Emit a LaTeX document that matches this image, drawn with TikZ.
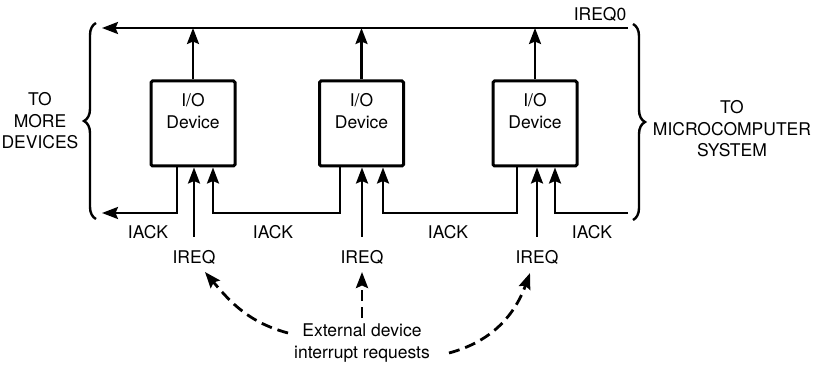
\documentclass[tikz,border=0pt]{standalone}
\usepackage{fontspec}
\setmainfont{TeX Gyre Heros}
\usetikzlibrary{arrows.meta,decorations.pathreplacing}
\begin{document}
\begin{tikzpicture}[x=1pt,y=1pt,
  every node/.style={font=\fontsize{17.5}{21.5}\selectfont, inner sep=0pt},
  dev/.style={draw, line width=3pt, minimum width=84pt, minimum height=85pt, rounded corners=1.5pt},
  wire/.style={line width=2.4pt},
  arr/.style={wire, -{Stealth[length=16pt,width=12pt,inset=2.5pt]}},
  dasharr/.style={line width=2.8pt, dash pattern=on 11pt off 6pt, -{Stealth[length=16pt,width=12pt,inset=2.5pt]}},
  brc/.style={line width=2.4pt, decorate, decoration={brace, amplitude=12pt}}]
\useasboundingbox (0,0) rectangle (821,364);

% devices
\node[dev] (b1) at (193,240.5) {};
\node[dev] (b2) at (361.5,240.5) {};
\node[dev] (b3) at (535,240.5) {};
\node[align=center] (l1) at (193,253) {I/O\\Device};
\node[align=center] (l2) at (361.5,253) {I/O\\Device};
\node[align=center] (l3) at (535,253) {I/O\\Device};

% bus coordinates
\coordinate (top) at (0,336);
\coordinate (tr) at (628,336);
\coordinate (tl) at (102,336);
\coordinate (br) at (628,151);
\coordinate (bl) at (102,151);

% pins
\coordinate (o1) at ([xshift=-16pt]b1.south);
\coordinate (i1) at ([xshift=20pt]b1.south);
\coordinate (o2) at ([xshift=-21.5pt]b2.south);
\coordinate (i2) at ([xshift=21.5pt]b2.south);
\coordinate (o3) at ([xshift=-18pt]b3.south);
\coordinate (i3) at ([xshift=20pt]b3.south);

% IREQ0 line
\draw[arr] (tr) -- (tl);
\node (irq0) at (600,350) {IREQ0};
\draw[arr] (b1.north) -- (b1.north |- top);
\draw[arr] (b2.north) -- (b2.north |- top);
\draw[arr] (b3.north) -- (b3.north |- top);

% IACK daisy chain
\draw[arr] (br) -| (i3);
\draw[arr] (o3) -- (o3 |- br) -| (i2);
\draw[arr] (o2) -- (o2 |- br) -| (i1);
\draw[arr] (o1) |- (bl);

% labels
\node (k0) at (148,132) {IACK};
\node (k1) at (273,132) {IACK};
\node (k2) at (448,132) {IACK};
\node (k3) at (592,132) {IACK};
\node (q1) at (194,107) {IREQ};
\node (q2) at (362,107) {IREQ};
\node (q3) at (537,107) {IREQ};

% IREQ arrows
\draw[arr] ([yshift=13pt]q1.north) -- (q1.north |- b1.south);
\draw[arr] ([yshift=13pt]q2.north) -- (q2.north |- b2.south);
\draw[arr] ([yshift=13pt]q3.north) -- (q3.north |- b3.south);

% braces
\coordinate (lb1) at (96,145);
\coordinate (lb2) at (96,341);
\coordinate (rb1) at (633,340);
\coordinate (rb2) at (633,144);
\draw[brc] (lb1) -- (lb2);
\draw[brc] (rb1) -- (rb2);
\node[align=center] (lt) at (40,243) {TO\\MORE\\DEVICES};
\node[align=center] (rt) at (732,235) {TO\\MICROCOMPUTER\\SYSTEM};

% external requests
\node[align=center] (ext) at (362,21) {External device\\interrupt requests};
\coordinate (s1) at (288,31);
\coordinate (t1) at (205,92);
\coordinate (s2) at (362,46);
\coordinate (t2) at (362,92);
\coordinate (s3) at (449,11);
\coordinate (t3) at (530,91);
\draw[dasharr] (s1) to[out=165,in=-50] (t1);
\draw[dasharr] (s2) -- (t2);
\draw[dasharr] (s3) to[out=15,in=-110] (t3);
\end{tikzpicture}
\end{document}
